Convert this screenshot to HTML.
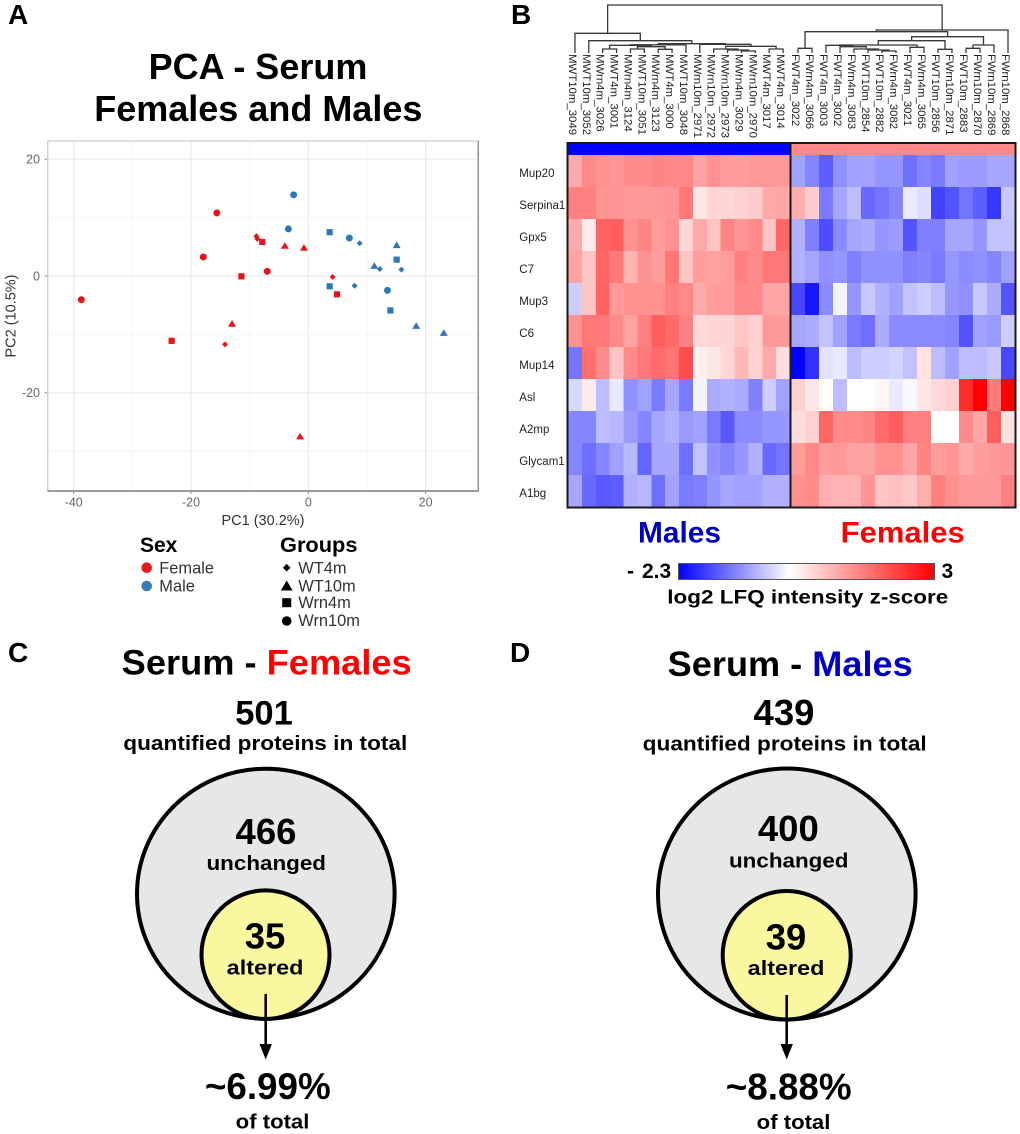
<!DOCTYPE html>
<html lang="en">
<head>
<meta charset="utf-8">
<title>Serum proteomics figure</title>
<style>
html,body{margin:0;padding:0;background:#fff;width:1020px;height:1134px;overflow:hidden}
svg{display:block;font-family:"Liberation Sans",Arial,sans-serif}
.b{font-weight:700;fill:#000}
</style>
</head>
<body>
<svg id="fig" xmlns="http://www.w3.org/2000/svg" width="1020" height="1134" viewBox="0 0 1020 1134">
  <defs>
    <linearGradient id="cbar" x1="0" x2="1" y1="0" y2="0"></linearGradient>
  </defs>
  <rect width="1020" height="1134" fill="#fff"/>

  <text class="b" x="8" y="24" font-size="28">A</text>
  <text class="b" x="511" y="24" font-size="28">B</text>
  <text class="b" x="8" y="662" font-size="28">C</text>
  <text class="b" x="510" y="662" font-size="28">D</text>

  <text class="b" x="258" y="79" font-size="36" text-anchor="middle">PCA - Serum</text>
  <text class="b" x="258.3" y="121" font-size="36" text-anchor="middle">Females and Males</text>

  <g id="pca"></g>

  <g>
    <text class="b" x="140" y="552" font-size="21">Sex</text>
    <circle cx="146.7" cy="567.7" r="5.3" fill="#e41a1c"/>
    <text x="159.3" y="573.3" font-size="16.4" fill="#333">Female</text>
    <circle cx="146.7" cy="586" r="5.3" fill="#377eb8"/>
    <text x="159.3" y="591.7" font-size="16.4" fill="#333">Male</text>
  </g>
  <g>
    <text class="b" x="280" y="552" font-size="21" textLength="77.5" lengthAdjust="spacingAndGlyphs">Groups</text>
    <polygon points="286.7,563.9 290.5,567.7 286.7,571.5 282.9,567.7" fill="#000"/>
    <text x="298.3" y="573.3" font-size="16.4" fill="#333">WT4m</text>
    <polygon points="286.7,580.5 292.6,590.5 280.8,590.5" fill="#000"/>
    <text x="298.3" y="591.7" font-size="16.4" fill="#333">WT10m</text>
    <rect x="282.2" y="598.2" width="9" height="9" fill="#000"/>
    <text x="298.3" y="608" font-size="16.4" fill="#333">Wrn4m</text>
    <circle cx="286.7" cy="621" r="4.8" fill="#000"/>
    <text x="298.3" y="626" font-size="16.4" fill="#333">Wrn10m</text>
  </g>

  <g id="dendro" fill="none" stroke="#383838" stroke-width="1.3"></g>
  <g id="collabels" font-size="11.4" fill="#222"></g>
  <g id="rowlabels" font-size="11.5" fill="#222"></g>
  <g id="heat" shape-rendering="crispEdges"></g>

  <text x="638" y="542.7" font-size="30" font-weight="700" fill="#0000c0" textLength="83" lengthAdjust="spacingAndGlyphs">Males</text>
  <text x="840.7" y="542.7" font-size="30" font-weight="700" fill="#ff0000" textLength="124" lengthAdjust="spacingAndGlyphs">Females</text>

  <g>
    <rect x="678.5" y="563.5" width="256" height="16" fill="url(#cbar)" stroke="#555" stroke-width="1"/>
    <text class="b" y="578" font-size="21"><tspan x="627">- </tspan><tspan x="642">2.3</tspan></text>
    <text class="b" x="941.5" y="578" font-size="21">3</text>
    <text class="b" x="667.3" y="603.3" font-size="19.5" textLength="281" lengthAdjust="spacingAndGlyphs">log2 LFQ intensity z-score</text>
  </g>

  <g>
    <text class="b" x="121.7" y="674.3" font-size="35" textLength="290" lengthAdjust="spacingAndGlyphs">Serum - <tspan fill="#ff0000">Females</tspan></text>
    <text class="b" x="264" y="724.3" font-size="34.5" text-anchor="middle">501</text>
    <text class="b" x="123.3" y="750" font-size="20" textLength="284" lengthAdjust="spacingAndGlyphs">quantified proteins in total</text>
    <ellipse cx="265.8" cy="893.7" rx="128.8" ry="125" fill="#e7e7e7" stroke="#000" stroke-width="4"/>
    <ellipse cx="265.5" cy="954.7" rx="64" ry="64.3" fill="#f9f7a0" stroke="#000" stroke-width="4"/>
    <text class="b" x="266" y="844" font-size="36.5" text-anchor="middle">466</text>
    <text class="b" x="206.5" y="870" font-size="20" textLength="119.5" lengthAdjust="spacingAndGlyphs">unchanged</text>
    <text class="b" x="265" y="948.3" font-size="36.5" text-anchor="middle">35</text>
    <text class="b" x="226.7" y="974.3" font-size="20" textLength="76.7" lengthAdjust="spacingAndGlyphs">altered</text>
    <line x1="265.7" y1="994" x2="265.7" y2="1046" stroke="#000" stroke-width="2.6"/>
    <polygon points="259.5,1044 271.9,1044 265.7,1059.5" fill="#000"/>
    <text class="b" x="267.8" y="1099" font-size="36.8" text-anchor="middle">~6.99%</text>
    <text class="b" x="235.7" y="1128.3" font-size="20" textLength="73.7" lengthAdjust="spacingAndGlyphs">of total</text>
  </g>

  <g>
    <text class="b" x="667.7" y="676" font-size="35" textLength="245" lengthAdjust="spacingAndGlyphs">Serum - <tspan fill="#0000c0">Males</tspan></text>
    <text class="b" x="784" y="725" font-size="36.5" text-anchor="middle">439</text>
    <text class="b" x="642.7" y="750.7" font-size="20" textLength="284" lengthAdjust="spacingAndGlyphs">quantified proteins in total</text>
    <ellipse cx="786.8" cy="894" rx="128.8" ry="125.5" fill="#e7e7e7" stroke="#000" stroke-width="4"/>
    <ellipse cx="786.7" cy="955.3" rx="64" ry="64.3" fill="#f9f7a0" stroke="#000" stroke-width="4"/>
    <text class="b" x="788.3" y="841" font-size="36.5" text-anchor="middle">400</text>
    <text class="b" x="729" y="867.3" font-size="20" textLength="119.5" lengthAdjust="spacingAndGlyphs">unchanged</text>
    <text class="b" x="786" y="949.3" font-size="36.5" text-anchor="middle">39</text>
    <text class="b" x="747.7" y="975" font-size="20" textLength="76.7" lengthAdjust="spacingAndGlyphs">altered</text>
    <line x1="786.7" y1="995" x2="786.7" y2="1046" stroke="#000" stroke-width="2.6"/>
    <polygon points="780.5,1044 792.9,1044 786.7,1059.5" fill="#000"/>
    <text class="b" x="788.7" y="1099.5" font-size="36.8" text-anchor="middle">~8.88%</text>
    <text class="b" x="756.7" y="1129" font-size="20" textLength="73.7" lengthAdjust="spacingAndGlyphs">of total</text>
  </g>
</svg>

<script>
// ---------- PCA data ----------
const xMajorTicks = [-40, -20, 0, 20];
const xMinorTicks = [-30, -10, 10];
const yMajorTicks = [20, 0, -20];
const yMinorTicks = [10, -10, -30];
const pointPC1 = [-38.7,-15.6,-17.9,-7.0, -7.85,-11.4,4.9,-23.3, -4.0,-0.74,-13.0,-1.4, -8.85,-8.7,4.15,-14.2,
                  -2.5,-3.4,7.0,13.5, 3.64,15.07,3.64,14.0, 15.07,11.26,18.4,23.1, 8.76,12.2,15.87,7.9];
const pointPC2 = [-4.06,10.8,3.26,0.8, 5.83,-0.06,-3.14,-11.1, 5.14,4.8,-8.2,-27.5, 6.8,6.35,-0.17,-11.7,
                  13.9,8.06,6.5,-2.46, 7.5,2.8,-1.77,-5.9, 5.26,1.7,-8.57,-9.77, 5.6,1.2,1.09,-1.66];
const pointSex = ['F','F','F','F','F','F','F','F','F','F','F','F','F','F','F','F',
                  'M','M','M','M','M','M','M','M','M','M','M','M','M','M','M','M'];
const pointGroup = ['Wrn10m','Wrn10m','Wrn10m','Wrn10m','Wrn4m','Wrn4m','Wrn4m','Wrn4m','WT10m','WT10m','WT10m','WT10m','WT4m','WT4m','WT4m','WT4m',
                    'Wrn10m','Wrn10m','Wrn10m','Wrn10m','Wrn4m','Wrn4m','Wrn4m','Wrn4m','WT10m','WT10m','WT10m','WT10m','WT4m','WT4m','WT4m','WT4m'];

// ---------- Heatmap data ----------
const maleSamples = ['MWT10m_3049','MWT10m_3052','MWrn4m_3026','MWT4m_3001','MWrn4m_3124','MWT10m_3051','MWrn4m_3123','MWT4m_3000','MWT10m_3048','MWrn10m_2971','MWrn10m_2972','MWrn10m_2973','MWrn4m_3029','MWrn10m_2970','MWT4m_3017','MWT4m_3014'];
const femaleSamples = ['FWT4m_3022','FWrn4m_3066','FWT4m_3003','FWT4m_3002','FWrn4m_3083','FWT10m_2854','FWT10m_2882','FWrn4m_3082','FWT4m_3021','FWrn4m_3065','FWT10m_2856','FWrn10m_2871','FWT10m_2883','FWrn10m_2870','FWrn10m_2869','FWrn10m_2868'];
const proteins = ['Mup20','Serpina1','Gpx5','C7','Mup3','C6','Mup14','Asl','A2mp','Glycam1','A1bg'];
const maleHeat = [
 [1.0,1.4,1.3,1.25,1.35,1.35,1.45,1.4,1.4,1.1,1.3,1.15,1.15,1.2,1.2,1.2],
 [1.5,1.5,1.25,1.25,1.2,1.2,1.2,1.25,1.6,0.3,0.5,0.5,0.55,0.6,1.0,1.05],
 [1.0,0.25,1.85,1.9,1.3,1.45,1.15,1.3,0.5,1.0,0.7,1.45,1.25,1.4,0.7,1.8],
 [1.1,0.7,1.8,1.55,0.9,1.3,1.15,1.6,0.7,1.15,1.1,1.15,1.5,1.35,1.6,1.6],
 [-0.45,0.7,1.85,1.2,1.3,1.3,1.3,1.5,1.4,1.0,1.15,1.15,1.4,1.4,1.05,1.05],
 [1.3,1.6,1.6,1.4,1.1,1.5,1.9,1.75,1.5,0.45,0.5,0.5,0.65,0.55,1.2,1.2],
 [-1.25,1.7,1.35,0.7,1.4,1.6,1.75,1.65,2.1,0.2,0.3,0.5,0.85,0.55,1.0,0.4],
 [-0.35,0.25,-0.6,-0.2,-1.0,-0.85,-1.2,-0.8,-1.2,-0.1,-0.75,-0.7,-0.75,-1.15,-0.45,-0.85],
 [-1.1,-1.1,-0.6,-0.65,-0.9,-1.1,-0.8,-0.7,-0.9,-0.85,-1.2,-1.5,-1.05,-1.05,-0.95,-0.95],
 [-1.1,-1.3,-1.1,-0.85,-0.65,-1.4,-0.8,-0.8,-1.3,-0.55,-1.0,-1.1,-0.95,-0.7,-1.35,-1.25],
 [-0.8,-1.35,-1.5,-1.45,-0.7,-0.65,-1.3,-0.85,-1.2,-1.15,-0.95,-0.8,-0.85,-0.85,-0.7,-0.7]
];
const femaleHeat = [
 [-0.85,-1.1,-1.45,-1.0,-0.85,-0.85,-0.95,-0.95,-1.3,-1.1,-1.2,-0.85,-0.9,-0.9,-0.8,-0.8],
 [0.95,0.6,-1.2,-0.8,-0.6,-1.35,-1.25,-1.1,-0.2,-0.3,-1.7,-1.55,-1.25,-1.45,-1.8,-0.5],
 [-0.7,-1.15,-1.6,-1.05,-0.8,-0.75,-0.95,-0.9,-1.55,-1.15,-1.15,-0.8,-0.8,-0.95,-0.55,-0.55],
 [-0.7,-0.8,-1.0,-0.95,-1.15,-1.0,-1.0,-1.0,-1.15,-1.1,-1.2,-0.95,-1.05,-1.0,-1.1,-0.85],
 [-1.65,-2.1,-1.05,-0.1,-0.95,-0.5,-0.7,-0.85,-0.55,-0.45,-0.6,-0.95,-1.0,-0.5,-0.75,-1.55],
 [-0.8,-0.75,-0.55,-0.85,-1.2,-1.3,-0.75,-1.05,-1.05,-1.05,-1.05,-1.1,-1.55,-0.85,-0.9,-0.45],
 [-2.3,-1.85,-0.25,-0.2,-0.6,-0.45,-0.45,-0.4,-0.55,0.35,-0.6,-0.85,-0.6,-0.6,-0.5,-1.65],
 [0.55,0.3,0.03,-0.6,0,0,0.1,-0.2,-0.05,0.3,0.45,0.55,2.5,3,1.55,3],
 [0.4,0.55,1.8,1.35,1.35,1.45,1.75,1.9,1.5,1.5,0,0,1.35,1.05,1.9,0.35],
 [1.15,1.4,1.15,1.2,1.1,1.1,1.3,1.3,1.05,1.45,1.15,1.25,1.0,1.15,1.2,1.25],
 [1.3,1.35,0.95,0.9,0.9,1.25,0.7,0.75,0.65,0.95,1.5,1.3,1.2,1.2,1.2,1.5]
];
const zMin = -2.3;
const zMax = 3;

// Dendrogram merges: [height, leftChild, rightChild]; a number is a sample column.
const maleTree = [19.7, 0, [12.3, 1, [9.3,
  [8.2, [7.7, [4, 2, 3], [6.3, [4, 4, 5], [3.7, 6, 7]]], 8],
  [8.7, 9, [6.7, [4, 10, [3, 11, [2, 12, 13]]], [4, 14, 15]]]
]]];
const femaleTree = [23, [21.3, [4.7, 16, 17], [16.3,
  [12.3, [8, [7.7, 18, [6.3, 19, [4, 20, [3, 21, [2, 22, 23]]]]], [5.7, 24, 25]], [3.7, 26, 27]],
  [8, [4.7, 28, 29], 30]
]], 31];
const rootTree = [48, maleTree, femaleTree];

// ---------- helpers ----------
const NS = 'http://www.w3.org/2000/svg';
function mk(parent, tag, attrs, text) {
  const el = document.createElementNS(NS, tag);
  for (const k in attrs) el.setAttribute(k, attrs[k]);
  if (text !== undefined) el.textContent = text;
  parent.appendChild(el);
  return el;
}

// ---------- PCA scales ----------
const xScale = v => 308.3 + 5.865 * v;
const yScale = v => 276 - 5.84 * v;
const plotL = 47.7, plotR = 478.3, plotT = 141, plotB = 491;

const pca = document.getElementById('pca');
xMinorTicks.forEach(t => {
  const el = mk(pca, 'line', {x1: xScale(t), x2: xScale(t), y1: plotT, y2: plotB, stroke: '#f2f2f2', 'stroke-width': 0.8});
  
  
});
yMinorTicks.forEach(t => {
  const el = mk(pca, 'line', {x1: plotL, x2: plotR, y1: yScale(t), y2: yScale(t), stroke: '#f2f2f2', 'stroke-width': 0.8});
  
  
});
xMajorTicks.forEach(t => {
  const el = mk(pca, 'line', {x1: xScale(t), x2: xScale(t), y1: plotT, y2: plotB, stroke: '#ebebeb', 'stroke-width': 1.2});
  
  
  const tick = mk(pca, 'line', {x1: xScale(t), x2: xScale(t), y1: plotB, y2: plotB + 3, stroke: '#888', 'stroke-width': 1});
  
  
  const lab = mk(pca, 'text', {x: xScale(t), y: 506.7, 'font-size': 12.5, fill: '#666', 'text-anchor': 'middle'}, String(t));
  
  
});
yMajorTicks.forEach(t => {
  const el = mk(pca, 'line', {x1: plotL, x2: plotR, y1: yScale(t), y2: yScale(t), stroke: '#ebebeb', 'stroke-width': 1.2});
  
  
  const tick = mk(pca, 'line', {x1: plotL - 3, x2: plotL, y1: yScale(t), y2: yScale(t), stroke: '#888', 'stroke-width': 1});
  
  
  const lab = mk(pca, 'text', {x: 40, y: yScale(t) + 4.3, 'font-size': 12.5, fill: '#666', 'text-anchor': 'end'}, String(t));
  
  
});
const frame = mk(pca, 'rect', {x: plotL, y: plotT, width: plotR - plotL, height: plotB - plotT, fill: 'none', stroke: '#cfcfcf', 'stroke-width': 1.4});


const axisB = mk(pca, 'line', {x1: plotL, x2: plotR + 0.7, y1: plotB, y2: plotB, stroke: '#6e6e6e', 'stroke-width': 1.3});


const axisR = mk(pca, 'line', {x1: plotR, x2: plotR, y1: plotT, y2: plotB, stroke: '#8a8a8a', 'stroke-width': 1.3});


const xTitle = mk(pca, 'text', {x: 263, y: 525, 'font-size': 14.5, fill: '#333', 'text-anchor': 'middle'}, 'PC1 (30.2%)');


const yTitle = mk(pca, 'text', {transform: 'translate(15.7 316) rotate(-90)', 'font-size': 14.5, fill: '#333', 'text-anchor': 'middle'}, 'PC2 (10.5%)');



pointPC1.forEach((v, i) => {
  const cx = xScale(v), cy = yScale(pointPC2[i]);
  const fill = pointSex[i] === 'F' ? '#e8141c' : '#2f78b7';
  const g = pointGroup[i];
  let el;
  if (g === 'Wrn10m') {
    el = mk(pca, 'circle', {cx: cx, cy: cy, r: 3.5, fill: fill});
  } else if (g === 'Wrn4m') {
    el = mk(pca, 'rect', {x: cx - 3.1, y: cy - 3.1, width: 6.2, height: 6.2, fill: fill});
  } else if (g === 'WT10m') {
    el = mk(pca, 'polygon', {points: `${cx},${cy - 3.9} ${cx + 4},${cy + 2.8} ${cx - 4},${cy + 2.8}`, fill: fill});
  } else {
    el = mk(pca, 'polygon', {points: `${cx},${cy - 3} ${cx + 3},${cy} ${cx},${cy + 3} ${cx - 3},${cy}`, fill: fill});
  }
  
  
});

// ---------- Heatmap ----------
const heatTop = 155, rowH = 32.02, colCount = 32;
function colLeft(i) { return i < 16 ? 568 + i * 13.875 : 791 + (i - 16) * 14; }
function colWidth(i) { return i < 16 ? 13.875 : 14; }
function colCenter(i) { return colLeft(i) + colWidth(i) / 2; }
function zColor(z) {
  const c = v => Math.round(255 * (1 - Math.min(1, v)));
  if (z < 0) { const t = c(z / zMin); return `rgb(${t},${t},255)`; }
  const t = c(z / zMax);
  return `rgb(255,${t},${t})`;
}

const heat = document.getElementById('heat');
proteins.forEach((name, r) => {
  const row = maleHeat[r].concat(femaleHeat[r]);
  row.forEach((z, c) => {
    const cell = mk(heat, 'rect', {x: colLeft(c), y: heatTop + r * rowH, width: colWidth(c) + 0.3, height: rowH + 0.3, fill: zColor(z)});
    
    
  });
  const lab = mk(document.getElementById('rowlabels'), 'text', {x: 519.3, y: heatTop + (r + 0.5) * rowH + 6}, name);
  
  
});
const barM = mk(heat, 'rect', {x: 568, y: 144, width: 222, height: 11, fill: '#0000ff'});


const barF = mk(heat, 'rect', {x: 791, y: 144, width: 224, height: 11, fill: '#ff8888'});


const hFrame = mk(heat, 'rect', {x: 567.5, y: 143, width: 448, height: 364.5, fill: 'none', stroke: '#1a1a1a', 'stroke-width': 2});


const hDiv = mk(heat, 'line', {x1: 790.3, x2: 790.3, y1: 143, y2: 507.5, stroke: '#1a1a1a', 'stroke-width': 2});



// Sample labels
const samples = maleSamples.concat(femaleSamples);
samples.forEach((s, i) => {
  const lab = mk(document.getElementById('collabels'), 'text', {transform: `translate(${colCenter(i) - 6} 54) rotate(90)`}, s);
  
  
});

// Dendrogram
const dendroBase = 53;
const hScale = h => dendroBase - h;
const dendro = document.getElementById('dendro');
function drawTree(node) {
  if (typeof node === 'number') return {x: colCenter(node), y: hScale(0)};
  const a = drawTree(node[1]);
  const b = drawTree(node[2]);
  const y = hScale(node[0]);
  const link = mk(dendro, 'path', {d: `M${a.x} ${a.y}V${y}H${b.x}V${b.y}`});
  
  
  return {x: (a.x + b.x) / 2, y: y};
}
drawTree(rootTree);

// Colour-scale gradient
const grad = document.getElementById('cbar');
[[0, 'rgb(0,0,255)'], [-zMin / (zMax - zMin), '#ffffff'], [1, 'rgb(255,0,0)']].forEach(s => {
  mk(grad, 'stop', {offset: s[0], 'stop-color': s[1]});
});
</script>
</body>
</html>
